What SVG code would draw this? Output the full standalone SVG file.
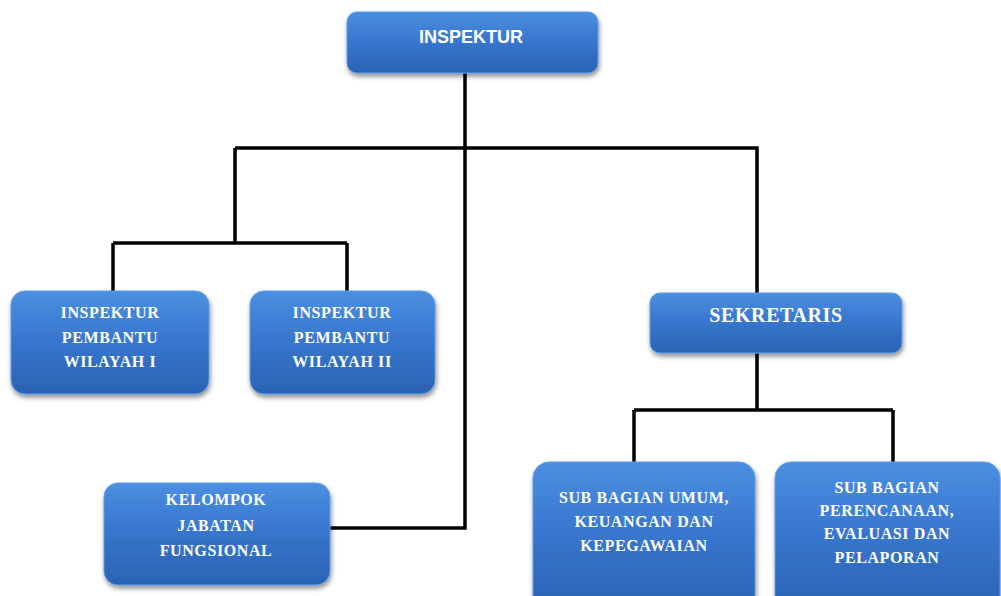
<svg xmlns="http://www.w3.org/2000/svg" width="1001" height="596" viewBox="0 0 1001 596">
<defs>
<linearGradient id="g" x1="0" y1="0" x2="0" y2="1">
<stop offset="0" stop-color="#4b8fe2"/>
<stop offset="0.5" stop-color="#3775cc"/>
<stop offset="1" stop-color="#2b62b3"/>
</linearGradient>
<filter id="sh" x="-10%" y="-10%" width="125%" height="130%">
<feGaussianBlur in="SourceAlpha" stdDeviation="2.5"/>
<feOffset dx="1" dy="3" result="b"/>
<feComponentTransfer><feFuncA type="linear" slope="0.45"/></feComponentTransfer>
<feMerge><feMergeNode/><feMergeNode in="SourceGraphic"/></feMerge>
</filter>
</defs>
<style>
.box{fill:url(#g);stroke:#5d9ce6;stroke-width:1;filter:url(#sh)}
.t{fill:#ffffff;font-family:"Liberation Serif",serif;font-weight:bold;font-size:16px;letter-spacing:0.6px;text-anchor:middle}
.ts{fill:#ffffff;font-family:"Liberation Sans",sans-serif;font-weight:bold;font-size:18px;text-anchor:middle}
.c{fill:none;stroke:#000;stroke-width:3.5}
</style>
<rect width="1001" height="596" fill="#ffffff"/>
<g id="connectors">
<path class="c" d="M465 72 V528 H330"/>
<path class="c" d="M235 148 H757 V293"/>
<path class="c" d="M235 148 V243"/>
<path class="c" d="M113 243 H347"/>
<path class="c" d="M113 243 V291"/>
<path class="c" d="M347 243 V291"/>
<path class="c" d="M757 353 V410"/>
<path class="c" d="M634 410 H893"/>
<path class="c" d="M634 410 V463"/>
<path class="c" d="M893 410 V463"/>
</g>
<g id="inspektur">
<rect class="box" x="347" y="12" width="251" height="61" rx="10"/>
<text class="ts" x="471" y="43">INSPEKTUR</text>
</g>
<g id="wilayah1">
<rect class="box" x="11" y="291" width="198" height="103" rx="14"/>
<text class="t" x="110" y="318">INSPEKTUR</text>
<text class="t" x="110" y="343">PEMBANTU</text>
<text class="t" x="110" y="367">WILAYAH I</text>
</g>
<g id="wilayah2">
<rect class="box" x="250" y="291" width="185" height="103" rx="14"/>
<text class="t" x="342" y="318">INSPEKTUR</text>
<text class="t" x="342" y="343">PEMBANTU</text>
<text class="t" x="342" y="367">WILAYAH II</text>
</g>
<g id="sekretaris">
<rect class="box" x="650" y="293" width="252" height="60" rx="10"/>
<text class="t" x="776" y="322" style="font-size:20px">SEKRETARIS</text>
</g>
<g id="kelompok">
<rect class="box" x="104" y="483" width="226" height="102" rx="14"/>
<text class="t" x="216" y="505">KELOMPOK</text>
<text class="t" x="216" y="531">JABATAN</text>
<text class="t" x="216" y="556">FUNGSIONAL</text>
</g>
<g id="subumum">
<rect class="box" x="533" y="462" width="222" height="150" rx="16"/>
<text class="t" x="644" y="503">SUB BAGIAN UMUM,</text>
<text class="t" x="644" y="527">KEUANGAN DAN</text>
<text class="t" x="644" y="551">KEPEGAWAIAN</text>
</g>
<g id="subperencanaan">
<rect class="box" x="775" y="462" width="225" height="150" rx="16"/>
<text class="t" x="887" y="493">SUB BAGIAN</text>
<text class="t" x="887" y="516">PERENCANAAN,</text>
<text class="t" x="887" y="539">EVALUASI DAN</text>
<text class="t" x="887" y="563">PELAPORAN</text>
</g>
</svg>
